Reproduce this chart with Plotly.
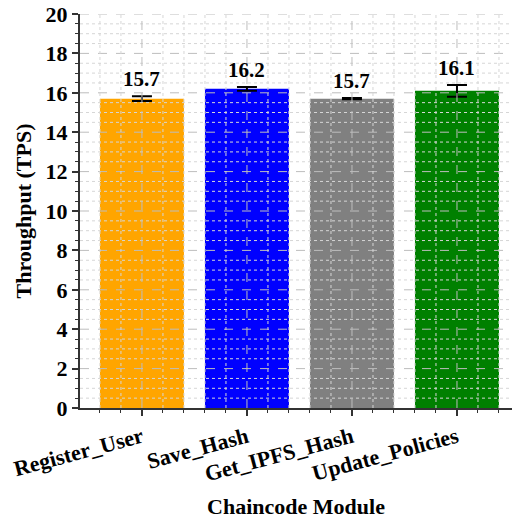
import numpy as np
import plotly.graph_objects as go

# Throughput per chaincode module
modules = ["Register_User", "Save_Hash", "Get_IPFS_Hash", "Update_Policies"]
throughput = [15.7, 16.2, 15.7, 16.1]
throughput_err = [0.12, 0.1, 0.03, 0.3]
bar_colors = ["#FFA500", "#0000FF", "#808080", "#008000"]

FONT = "Liberation Serif, Times New Roman, DejaVu Serif, serif"
AXIS_COLOR = "#333333"


def bold_font(size):
    return dict(family=FONT, size=size, color="black", weight="bold")


x_pos = list(range(len(modules)))

fig = go.Figure()
fig.add_trace(go.Bar(
    x=x_pos,
    y=throughput,
    width=0.8,
    marker=dict(color=bar_colors, line=dict(width=0)),
    error_y=dict(type="data", array=throughput_err, visible=True,
                 color="black", thickness=2, width=10),
))

# value labels above each error bar
for xi, v, e in zip(x_pos, throughput, throughput_err):
    fig.add_annotation(
        x=xi, y=v + e, text=f"{v:.1f}", showarrow=False,
        yanchor="bottom", yshift=3,
        font=bold_font(21),
    )

# grid lines drawn over the bars
shapes = []
for gy in np.arange(0.5, 20.01, 0.5):
    major = abs(gy / 2 - round(gy / 2)) < 1e-9
    shapes.append(dict(
        type="line", xref="paper", yref="y", x0=0, x1=1, y0=gy, y1=gy,
        layer="above",
        line=dict(color="#bdbdbd" if major else "#d6d6d6", width=1,
                  dash="dash" if major else "dot"),
    ))
for gx in np.arange(-0.4, 3.6, 0.2):
    gx = round(gx, 1)
    major = abs(gx - round(gx)) < 1e-9
    shapes.append(dict(
        type="line", xref="x", yref="paper", x0=gx, x1=gx, y0=0, y1=1,
        layer="above",
        line=dict(color="#bdbdbd" if major else "#d6d6d6", width=1,
                  dash="dash" if major else "dot"),
    ))
fig.update_layout(shapes=shapes)

fig.update_layout(
    width=512, height=521,
    margin=dict(l=80, r=0, t=14, b=113),
    plot_bgcolor="white", paper_bgcolor="white",
    showlegend=False,
    font=dict(family=FONT, color="black"),
    xaxis=dict(
        range=[-0.59, 3.524],
        tickmode="array", tickvals=x_pos, ticktext=modules,
        tickangle=-15,
        tickfont=bold_font(22),
        ticks="outside", ticklen=6, tickwidth=1.5, tickcolor=AXIS_COLOR,
        showline=True, linecolor=AXIS_COLOR, linewidth=2,
        showgrid=False, zeroline=False,
        minor=dict(dtick=0.2, tick0=0, ticks="outside", ticklen=3,
                   tickwidth=1, tickcolor=AXIS_COLOR, showgrid=False),
        title=dict(text="Chaincode Module", standoff=13,
                   font=bold_font(22)),
    ),
    yaxis=dict(
        range=[0, 20], dtick=2, tick0=0,
        tickfont=bold_font(22),
        tickformat="d",
        ticks="outside", ticklen=6, tickwidth=1.5, tickcolor=AXIS_COLOR,
        showline=True, linecolor=AXIS_COLOR, linewidth=2,
        showgrid=False, zeroline=False,
        minor=dict(dtick=0.5, ticks="outside", ticklen=3,
                   tickwidth=1, tickcolor=AXIS_COLOR, showgrid=False),
        title=dict(text="Throughput (TPS)", standoff=8,
                   font=bold_font(22)),
    ),
)

fig.write_html("out.html")
